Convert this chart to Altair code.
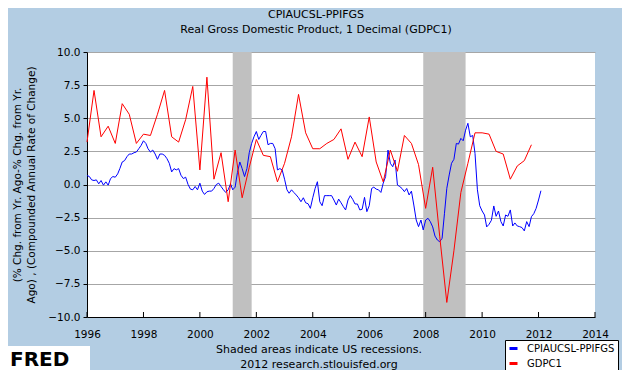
import altair as alt
import pandas as pd

FONT = "DejaVu Sans"
BG = "#B3CDE3"

title_lines = ["CPIAUCSL-PPIFGS", "Real Gross Domestic Product, 1 Decimal (GDPC1)"]
y_title = ["(% Chg. from Yr. Ago-% Chg. from Yr.", "Ago) , (Compounded Annual Rate of Change)"]
note_lines = ["Shaded areas indicate US recessions.", "2012 research.stlouisfed.org"]
series_names = ["CPIAUCSL-PPIFGS", "GDPC1"]
series_colors = ["#0000FF", "#FF0000"]

# monthly, starting 1996-01
spread_start = "1996-01-01"
spread_values = [
    0.68, 0.6, 0.35, 0.3, 0.35, 0.05, 0.3, -0.05, 0.2, -0.05, 0.45, 0.6,
    0.55, 0.8, 1.2, 1.7, 1.8, 2.1, 2.3, 2.3, 2.4, 2.45, 2.7, 2.95,
    3.3, 3.1, 2.7, 2.45, 2.6, 2.3, 1.9, 2.3, 2.3, 2.2, 1.95, 1.6,
    0.95, 1.2, 1.1, 1.2, 0.7, 0.45, 0.55, 0.0, -0.35, -0.4, -0.15, -0.4,
    0.1, -0.5, -0.75, -0.55, -0.5, -0.5, -0.3, 0.0, 0.1, -0.15, -0.4, -0.6,
    -0.4, 0.05, -0.4, -0.2, 0.9, 1.7, 1.2, 0.6, 1.2, 2.4, 3.1, 3.6,
    4.0, 3.4, 3.7, 4.0, 4.0, 3.0, 3.1, 3.1, 2.7, 1.1, 1.2, 1.1,
    0.4, -0.4, -0.66, -0.4, -0.6, -0.79, -1.0, -1.3, -1.0, -1.38, -1.45, -1.8,
    -1.0, -0.29, 0.21, -1.3, -1.6, -0.84, -0.84, -0.84, -0.84, -1.17, -1.55, -1.1,
    -1.38, -1.68, -1.92, -1.17, -0.84, -1.12, -1.47, -1.47, -1.92, -1.87, -0.97, -2.05,
    -1.6, -0.3, -0.2, -0.35, -0.4, -0.6, 0.1, 0.6, 2.6, 1.6, 1.34, 1.85,
    -0.04, -0.16, -0.3, -0.54, -0.3, -0.79, -0.5, -1.55, -2.68, -3.18, -2.68, -3.43,
    -2.68, -2.55, -2.8, -3.2, -3.89, -4.19, -4.32, -4.06, -2.17, -0.29, 0.72, 1.6,
    1.9, 3.1, 3.05, 3.48, 3.3, 4.1, 4.62, 3.6, 3.7, 2.35, -0.4, -1.6,
    -2.0, -2.3, -3.2, -3.0, -2.7, -1.62, -2.4, -2.0, -2.8, -3.13, -2.3, -2.4,
    -1.92, -3.13, -2.9, -3.13, -3.18, -3.25, -3.5, -2.8, -3.18, -2.43, -2.2, -1.8,
    -1.17, -0.47,
]

# quarterly, starting 1996Q1
gdp_start = "1996-01-01"
gdp_values = [
    3.2, 7.1, 3.6, 4.4,
    3.1, 6.1, 5.3, 3.1,
    3.8, 3.7, 5.3, 7.1,
    3.6, 3.2, 4.9, 7.4,
    1.1, 8.1, 0.4, 2.4,
    -1.3, 2.6, -1.0, 1.3,
    3.4, 2.2, 2.1, 0.2,
    1.6, 3.6, 6.8, 3.9,
    2.7, 2.7, 3.1, 3.4,
    4.2, 1.9, 3.2, 2.1,
    5.1, 1.7, 0.2, 2.6,
    1.0, 3.7, 3.1, 1.5,
    -1.8, 1.3, -3.9, -8.9,
    -5.0, -0.6, 1.6, 3.9,
    3.9, 3.8, 2.5, 2.3,
    0.4, 1.4, 1.8, 3.0,
]

recession_start = ["2001-03-01", "2007-12-01"]
recession_end = ["2001-11-01", "2009-06-01"]
tick_years = [1996, 1998, 2000, 2002, 2004, 2006, 2008, 2010, 2012, 2014]
y_ticks = [-10.0, -7.5, -5.0, -2.5, 0.0, 2.5, 5.0, 7.5, 10.0]

W, H = 508, 265

spread_df = pd.DataFrame({
    "date": pd.date_range(spread_start, periods=len(spread_values), freq="MS").strftime("%Y-%m-%d"),
    "value": spread_values,
    "series": series_names[0],
})
gdp_df = pd.DataFrame({
    "date": pd.date_range(gdp_start, periods=len(gdp_values), freq="QS").strftime("%Y-%m-%d"),
    "value": gdp_values,
    "series": series_names[1],
})
lines_df = pd.concat([spread_df, gdp_df], ignore_index=True)

rec_df = pd.DataFrame({"date": recession_start, "end": recession_end,
                       "value": [10.0, 10.0], "lo": [-10.0, -10.0]})
tick_df = pd.DataFrame({"date": [f"{y}-01-01" for y in tick_years]})

x_scale = alt.Scale(domain=[alt.DateTime(year=1996, month=1, date=1),
                            alt.DateTime(year=2014, month=1, date=1)])
y_scale = alt.Scale(domain=[-10, 10], nice=False, zero=False)

x_axis = alt.Axis(
    title=None, format="%Y", ticks=False, grid=False,
    values=[alt.DateTime(year=y, month=1, date=1) for y in tick_years],
    labelFont=FONT, labelFontSize=10.5, labelColor="black", labelPadding=12,
    domainColor="black", domainWidth=1, labelFlush=False, labelOverlap=False,
)
y_axis = alt.Axis(
    title=y_title, values=y_ticks, format=".1f",
    grid=True, gridColor="#A6A6A6", gridWidth=1,
    tickSize=4, tickColor="black", domainColor="black", domainWidth=1,
    labelFont=FONT, labelFontSize=10.5, labelColor="black", labelPadding=3,
    titleFont=FONT, titleFontSize=10.5, titleFontWeight="normal", titleColor="black",
    titleLineHeight=14, titleX=-65, titleY=H / 2, labelFlush=False,
)

X = alt.X("date:T", scale=x_scale, axis=x_axis)
Y = alt.Y("value:Q", scale=y_scale, axis=y_axis)

rects = alt.Chart(rec_df).mark_rect(color="#C0C0C0").encode(
    x=X, x2="end:T", y=Y, y2="lo:Q"
)

lines = alt.Chart(lines_df).mark_line(strokeWidth=1).encode(
    x=X, y=Y,
    color=alt.Color("series:N",
                    scale=alt.Scale(domain=series_names, range=series_colors),
                    legend=alt.Legend(title=None, orient="none", legendX=418, legendY=288,
                                      fillColor="white", strokeColor="black",
                                      padding=3, rowPadding=2, symbolType="stroke",
                                      symbolSize=64, symbolStrokeWidth=3,
                                      labelFont=FONT, labelFontSize=10, labelColor="black",
                                      labelOffset=8, labelLimit=200)),
)

ticks = alt.Chart(tick_df).mark_rule(color="black", strokeWidth=1).encode(
    x=X, y=alt.value(H), y2=alt.value(H - 5)
)

titles_df = pd.DataFrame({"text": title_lines, "ypos": [-37, -22]})
titles = alt.Chart(titles_df).mark_text(font=FONT, fontSize=11, color="black",
                                        align="center", baseline="middle").encode(
    text="text:N", x=alt.value(229), y=alt.Y("ypos:Q", scale=None)
)

notes_df = pd.DataFrame({"text": note_lines, "ypos": [298, 313]})
notes = alt.Chart(notes_df).mark_text(font=FONT, fontSize=11, color="black",
                                      align="center", baseline="middle").encode(
    text="text:N", x=alt.value(232), y=alt.Y("ypos:Q", scale=None)
)

logo_df = pd.DataFrame({"text": ["FRED"]})
logo_box = alt.Chart(logo_df).mark_rect(color="white").encode(
    x=alt.value(-82), x2=alt.value(3), y=alt.value(294), y2=alt.value(318)
)
logo = alt.Chart(logo_df).mark_text(font=FONT, fontSize=20, fontWeight="bold",
                                    color="black", align="left", baseline="alphabetic").encode(
    text="text:N", x=alt.value(-77), y=alt.value(314)
)

chart = alt.layer(rects, lines, ticks, titles, notes, logo_box, logo).properties(
    width=W, height=H,
    autosize=alt.AutoSizeParams(type="none"),
    padding={"left": 79, "top": 44, "right": 27, "bottom": 53},
    background=BG,
).configure_view(strokeWidth=0, fill="white")

chart.save("out.html", embed_options={"renderer": "svg", "actions": False})
